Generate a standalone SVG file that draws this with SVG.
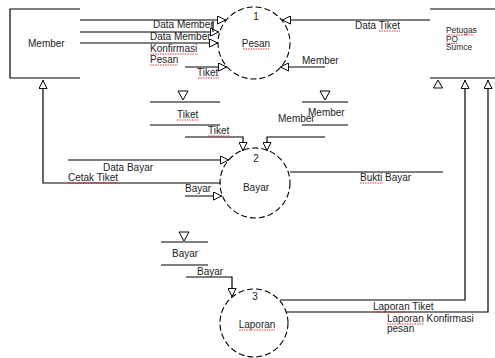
<svg xmlns="http://www.w3.org/2000/svg" width="495" height="358" viewBox="0 0 495 358">
<style>
text{font-family:"Liberation Sans",Arial,sans-serif;font-size:10px;fill:#222}
.c{text-anchor:middle}
.s{font-size:8.4px}
.ln{fill:none;stroke:#000;stroke-width:1.2}
.proc{fill:#fff;stroke:#000;stroke-width:1.1;stroke-dasharray:6,3}
.tri{fill:#fff;stroke:#000;stroke-width:1}
.sp{fill:none;stroke:#d22;stroke-width:0.9;stroke-dasharray:1.5,1}
</style>
<defs>
<marker id="a" viewBox="0 0 10 10" refX="10" refY="5" markerWidth="9" markerHeight="9" markerUnits="userSpaceOnUse" orient="auto">
<path d="M0.5,0.5 L9.5,5 L0.5,9.5 Z" fill="#fff" stroke="#000" stroke-width="1.1"/>
</marker>
</defs>
<rect width="495" height="358" fill="#fff"/>

<g id="member">
<path class="ln" d="M80,9 H10 V78 H80"/>
<text x="28" y="47">Member</text>
</g>

<g id="petugas">
<path class="ln" d="M430,9 H495 M430,78 H495"/>
<text class="s" x="446" y="33">Petugas</text>
<text class="s" x="446" y="41.5">PO</text>
<text class="s" x="446" y="50">Sumce</text>
<path class="sp" d="M446,35 H474 M446,43.5 H457"/>
<polygon class="tri" points="438,80 433.5,88 442.5,88"/>
</g>

<g id="pesan">
<circle class="proc" cx="254" cy="43" r="36"/>
<text class="c" x="256" y="20">1</text>
<text class="c" x="256" y="47">Pesan</text>
<path class="sp" d="M243,49 H269"/>
</g>

<g id="bayar">
<circle class="proc" cx="255" cy="183" r="35"/>
<text class="c" x="256" y="162">2</text>
<text class="c" x="256" y="191">Bayar</text>
</g>

<g id="laporan">
<circle class="proc" cx="254" cy="323" r="34"/>
<text class="c" x="255" y="300">3</text>
<text class="c" x="257" y="328">Laporan</text>
<path class="sp" d="M239,330 H275"/>
</g>

<g id="store-tiket">
<path class="ln" d="M150,102 H220 M150,125 H220"/>
<polygon class="tri" points="178,91 188,91 183,100"/>
<text x="177" y="118">Tiket</text>
<path class="sp" d="M177,120 H199"/>
</g>

<g id="store-member">
<path class="ln" d="M302,102 H348 M302,125 H348"/>
<polygon class="tri" points="320,91 330,91 325,100"/>
<text x="308" y="116">Member</text>
</g>

<g id="store-bayar">
<path class="ln" d="M161,242 H208 M161,265 H208"/>
<polygon class="tri" points="179,232 189,232 184,241"/>
<text x="172" y="257">Bayar</text>
</g>

<g id="connectors">
<path class="ln" d="M80,20 H226" marker-end="url(#a)"/>
<path class="ln" d="M80,32 H219" marker-end="url(#a)"/>
<path class="ln" d="M213,21 V32"/>
<path class="ln" d="M80,43 H218" marker-end="url(#a)"/>
<path class="ln" d="M185,67 H227" marker-end="url(#a)"/>
<path class="ln" d="M430,20 H282" marker-end="url(#a)"/>
<path class="ln" d="M325,67 H280" marker-end="url(#a)"/>
<path class="ln" d="M185,137 H243 V151" marker-end="url(#a)"/>
<path class="ln" d="M325,137 H267 V151" marker-end="url(#a)"/>
<path class="ln" d="M68,160 H229" marker-end="url(#a)"/>
<path class="ln" d="M221,183 H43 V80" marker-end="url(#a)"/>
<path class="ln" d="M185,196 H222" marker-end="url(#a)"/>
<path class="ln" d="M290,172 H443"/>
<path class="ln" d="M186,277 H232 V297" marker-end="url(#a)"/>
<path class="ln" d="M280,300 H465 V80" marker-end="url(#a)"/>
<path class="ln" d="M286,312 H488 V80" marker-end="url(#a)"/>

<text x="153" y="28">Data Member</text>
<text x="150" y="40">Data Member</text>
<text x="150" y="52">Konfirmasi</text>
<text x="150" y="63">Pesan</text>
<text x="197" y="76">Tiket</text>
<text x="355" y="29">Data Tiket</text>
<text x="302" y="64">Member</text>
<text x="278" y="122">Member</text>
<text x="208" y="134">Tiket</text>
<text x="103" y="171">Data Bayar</text>
<text x="68" y="181">Cetak Tiket</text>
<text x="185" y="192">Bayar</text>
<text x="360" y="181">Bukti Bayar</text>
<text x="197" y="275">Bayar</text>
<text x="373" y="310">Laporan Tiket</text>
<text x="387" y="322">Laporan Konfirmasi</text>
<text x="387" y="332">pesan</text>
<path class="sp" d="M150,54 H198 M150,65 H178 M198,78 H219 M379,31 H400 M208,136 H230 M68,183 H120 M360,183 H383 M373,312 H410 M387,324 H424"/>
</g>
</svg>
